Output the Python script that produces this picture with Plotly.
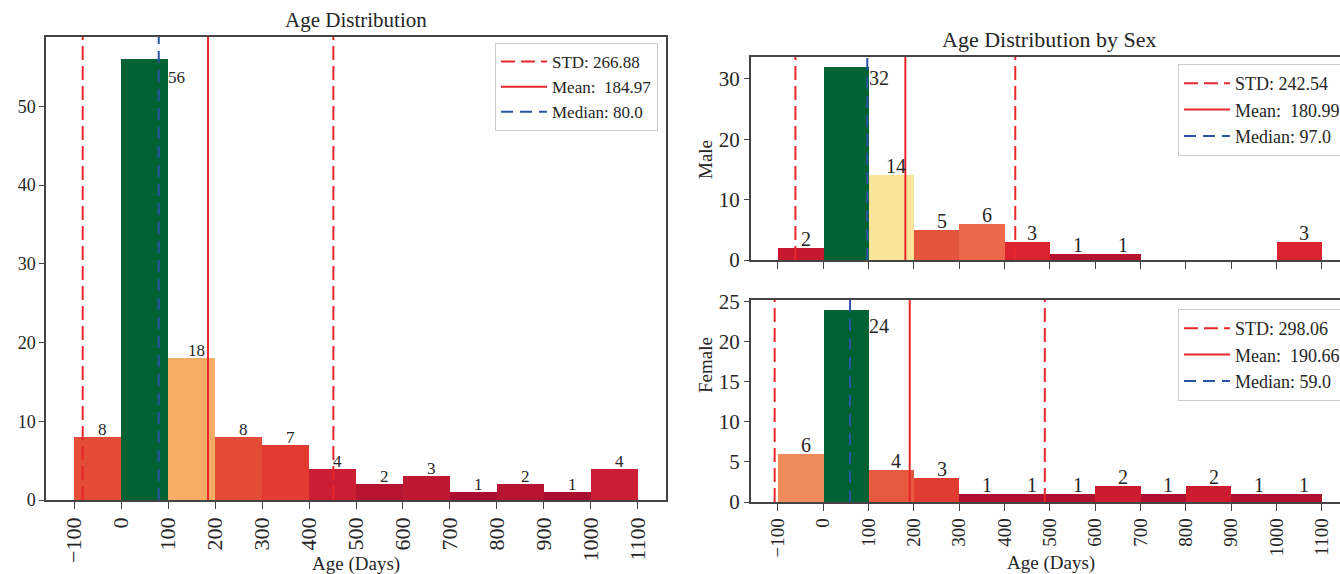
import plotly.graph_objects as go

# ---------------- data ----------------
bin_starts = [-100, 0, 100, 200, 300, 400, 500, 600, 700, 800, 900, 1000]
bin_width = 100
tick_values = [-100, 0, 100, 200, 300, 400, 500, 600, 700, 800, 900, 1000, 1100]

all_counts = [8, 56, 18, 8, 7, 4, 2, 3, 1, 2, 1, 4]
male_counts = [2, 32, 14, 5, 6, 3, 1, 1, 0, 0, 0, 3]
female_counts = [6, 24, 4, 3, 1, 1, 1, 2, 1, 2, 1, 1]

all_stats = {"std": 266.88, "mean": 184.97, "median": 80.0}
male_stats = {"std": 242.54, "mean": 180.99, "median": 97.0}
female_stats = {"std": 298.06, "mean": 190.66, "median": 59.0}

all_yticks = [0, 10, 20, 30, 40, 50]
male_yticks = [0, 10, 20, 30]
female_yticks = [0, 5, 10, 15, 20, 25]

# ---------------- styles ----------------
all_colors = ["#e44c37", "#026234", "#f5ad66", "#e44c37", "#e33a32", "#cb1d33",
              "#b71431", "#bf1832", "#aa0f30", "#b71431", "#aa0f30", "#cb1d33"]
male_colors = ["#c8182f", "#026234", "#f8e597", "#e5553c", "#ec6849", "#dc2430",
               "#b51330", "#b51330", "#b51330", "#b51330", "#b51330", "#dc2430"]
female_colors = ["#ef8a5a", "#026234", "#e85a3f", "#e03c31", "#b01030", "#b01030",
                 "#b01030", "#cd1c30", "#b01030", "#cd1c30", "#b01030", "#b01030"]

RED = "#e8272d"
BLUE = "#2a54a6"
TXT = "#262626"
AX = "#444444"
FONT = "Liberation Serif"
W, H = 1340, 574

centers = [b + bin_width / 2 for b in bin_starts]

fig = go.Figure()


def px_x(p):
    return p / W


def px_y(p):
    return (H - p) / H


def add_panel(counts, colors, stats, xref, yref, legend, label_size, max_yshift):
    ymax = max(counts) * 1.05
    fig.add_trace(go.Bar(x=centers, y=counts, width=bin_width, marker_color=colors,
                         marker_line_width=0, showlegend=False, xaxis=xref, yaxis=yref,
                         hoverinfo="x+y"))
    lo = stats["mean"] - stats["std"]
    hi = stats["mean"] + stats["std"]
    fig.add_trace(go.Scatter(x=[lo, lo, None, hi, hi], y=[0, ymax, None, 0, ymax], mode="lines",
                             line=dict(color=RED, width=2, dash="14px,6px"),
                             name="STD: %.2f" % stats["std"], xaxis=xref, yaxis=yref,
                             legend=legend))
    fig.add_trace(go.Scatter(x=[stats["mean"]] * 2, y=[0, ymax], mode="lines",
                             line=dict(color=RED, width=2),
                             name="Mean:\u00a0 %.2f" % stats["mean"], xaxis=xref, yaxis=yref,
                             legend=legend))
    fig.add_trace(go.Scatter(x=[stats["median"]] * 2, y=[0, ymax], mode="lines",
                             line=dict(color=BLUE, width=2, dash="12px,7px"),
                             name="Median: %s" % stats["median"], xaxis=xref, yaxis=yref,
                             legend=legend))
    top = max(counts)
    for c, s, n in zip(centers, bin_starts, counts):
        if n == 0:
            continue
        if n == top:
            fig.add_annotation(x=s + bin_width, y=n, xref=xref, yref=yref, text=str(n),
                               showarrow=False, xanchor="left", yanchor="middle",
                               xshift=-2, yshift=max_yshift,
                               font=dict(family=FONT, size=label_size, color=TXT))
        else:
            fig.add_annotation(x=c, y=n, xref=xref, yref=yref, text=str(n), showarrow=False,
                               xanchor="center", yanchor="bottom", xshift=5, yshift=-4,
                               font=dict(family=FONT, size=label_size, color=TXT))


add_panel(all_counts, all_colors, all_stats, "x", "y", "legend", 17, -18)
add_panel(male_counts, male_colors, male_stats, "x2", "y2", "legend2", 20, -11)
add_panel(female_counts, female_colors, female_stats, "x3", "y3", "legend3", 20, -16)

common_x = dict(tickvals=tick_values, ticks="outside", ticklen=7, tickcolor=AX, tickwidth=1.2,
                showline=True, linecolor=AX, linewidth=1.5, showgrid=False, zeroline=False,
                tickangle=-90, automargin=False)
common_y = dict(ticks="outside", ticklen=5, tickcolor=AX, tickwidth=1.2, showline=True,
                linecolor=AX, linewidth=1.5, showgrid=False, zeroline=False, automargin=False)

legend_common = dict(bgcolor="white", bordercolor="#cccccc", borderwidth=1, tracegroupgap=0,
                     itemwidth=46)

fig.update_layout(
    width=W, height=H, margin=dict(l=0, r=0, t=0, b=0, autoexpand=False),
    plot_bgcolor="white", paper_bgcolor="white", bargap=0,
    font=dict(family=FONT, color=TXT),
    xaxis=dict(domain=[px_x(46), px_x(666)], range=[-160, 1160], mirror=True, anchor="y",
               tickfont=dict(size=22), **common_x),
    yaxis=dict(domain=[px_y(500), px_y(37)], range=[0, max(all_counts) * 1.05], mirror=True,
               anchor="x", tickvals=all_yticks, tickfont=dict(size=18), **common_y),
    xaxis2=dict(domain=[px_x(750.8), 1.0], range=[-160, 1140], mirror=True, anchor="y2",
                showticklabels=False, matches="x3", **common_x),
    yaxis2=dict(domain=[px_y(260), px_y(57)], range=[0, max(male_counts) * 1.05], mirror=False,
                anchor="x2", tickvals=male_yticks, tickfont=dict(size=21), **common_y),
    xaxis3=dict(domain=[px_x(750.8), 1.0], range=[-160, 1140], mirror=True, anchor="y3",
                tickfont=dict(size=19), **common_x),
    yaxis3=dict(domain=[px_y(502), px_y(300)], range=[0, max(female_counts) * 1.05], mirror=False,
                anchor="x3", tickvals=female_yticks, tickfont=dict(size=21), **common_y),
    legend=dict(x=px_x(658), xanchor="right", y=px_y(43), yanchor="top",
                font=dict(size=17, family=FONT, color=TXT), **legend_common),
    legend2=dict(x=px_x(1178), xanchor="left", y=px_y(64), yanchor="top",
                 font=dict(size=18, family=FONT, color=TXT), **legend_common),
    legend3=dict(x=px_x(1178), xanchor="left", y=px_y(309), yanchor="top",
                 font=dict(size=18, family=FONT, color=TXT), **legend_common),
)

texts = [
    ("Age Distribution", 356, 20, 21, 0),
    ("Age Distribution by Sex", 1049, 40, 22, 0),
    ("Age (Days)", 356, 564, 19, 0),
    ("Age (Days)", 1051, 563, 19, 0),
    ("Male", 705, 160, 19, -90),
    ("Female", 705, 365, 19, -90),
]
for t, x, y, s, a in texts:
    fig.add_annotation(x=px_x(x), y=px_y(y), xref="paper", yref="paper", text=t, showarrow=False,
                       xanchor="center", yanchor="middle", textangle=a,
                       font=dict(family=FONT, size=s, color=TXT))

fig.write_html(
    "out.html",
    config={"displayModeBar": False},
    post_script="document.body.style.margin='0';document.body.style.overflow='hidden';",
)
